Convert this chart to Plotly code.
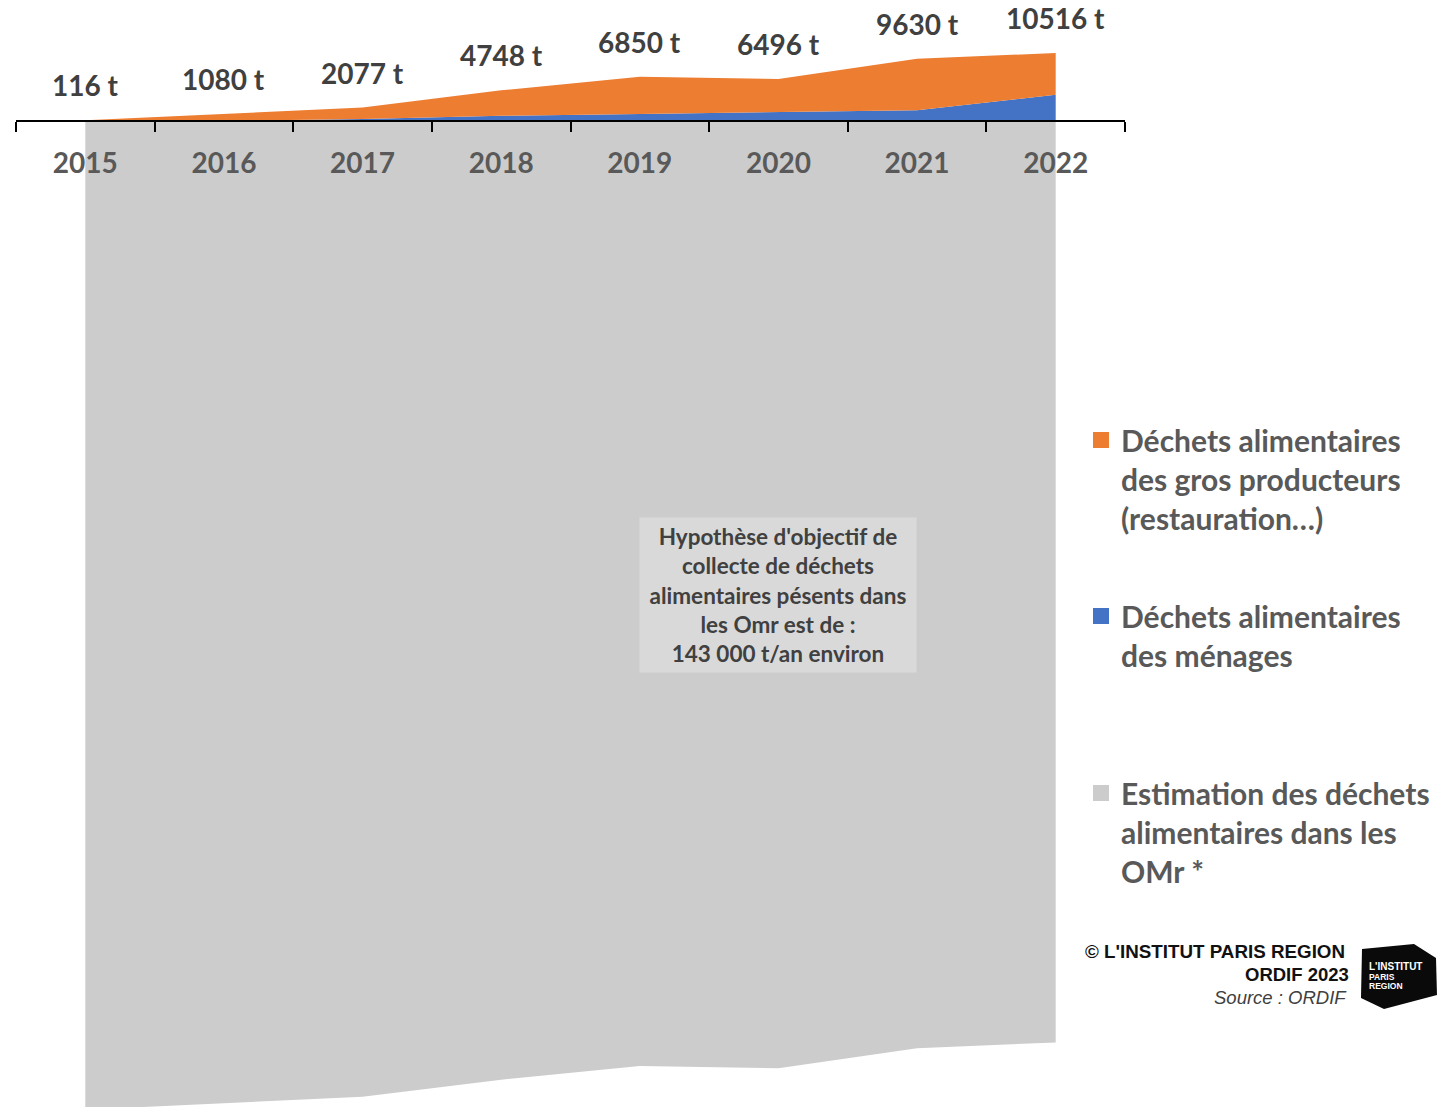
import plotly.graph_objects as go

# ---------------- data ----------------
years = ["2015", "2016", "2017", "2018", "2019", "2020", "2021", "2022"]
menages = [0, 20, 300, 800, 1100, 1350, 1650, 4050]
gros_producteurs = [116, 1060, 1777, 3948, 5750, 5146, 7980, 6466]
totaux = [116, 1080, 2077, 4748, 6850, 6496, 9630, 10516]
omr_estimation = [-152900, -151900, -150900, -148250, -146150, -146500, -143400, -142500]

label_gros = "Déchets alimentaires<br>des gros producteurs<br>(restauration…)"
label_menages = "Déchets alimentaires<br>des ménages"
label_omr = "Estimation des déchets<br>alimentaires dans les<br>OMr *"

ORANGE = "#ed7d31"
BLUE = "#4472c4"
GREY = "#cccccc"
TXT = "#595959"
DARK = "#404040"

OFF = 0                    # page body margin (removed by post_script)
W, H = 1455 - OFF, 1107 - OFF
PL, PR = 16, 1125          # plot area left/right in page px
AXIS_PX = 121              # page pixel row of the zero line
scale = 10516 / 68.0       # tonnes per pixel
ytop = (AXIS_PX - OFF) * scale
ybot = -(H - (AXIS_PX - OFF)) * scale

def px(xpix):
    return (xpix - PL) / (PR - PL)

def py(ypix):
    return 1 - (ypix - OFF) / H

FONT = dict(family="Lato, 'Open Sans', sans-serif", weight=700)

fig = go.Figure()

fig.add_trace(go.Scatter(x=years, y=omr_estimation, mode="lines", fill="tozeroy",
                         fillcolor=GREY, line=dict(width=0, color=GREY),
                         showlegend=False, hoverinfo="skip"))
fig.add_trace(go.Scatter(x=years, y=menages, mode="lines", stackgroup="one",
                         fillcolor=BLUE, line=dict(width=0, color=BLUE),
                         showlegend=False))
fig.add_trace(go.Scatter(x=years, y=gros_producteurs, mode="lines", stackgroup="one",
                         fillcolor=ORANGE, line=dict(width=0, color=ORANGE),
                         showlegend=False))

# legend entries (square markers)
for name, col, lg in [(label_gros, ORANGE, "legend"),
                      (label_menages, BLUE, "legend2"),
                      (label_omr, GREY, "legend3")]:
    fig.add_trace(go.Scatter(x=[None], y=[None], mode="markers", name=name,
                             marker=dict(symbol="square", size=16, color=col),
                             legend=lg, showlegend=True))

# data labels
for i, tot in enumerate(totaux):
    fig.add_annotation(x=i, y=tot, xref="x", yref="y", text=f"{tot} t",
                       showarrow=False, yshift=35, xanchor="center", yanchor="middle",
                       font=dict(size=28, color=DARK, **FONT))

# hypothesis box
fig.add_annotation(xref="paper", yref="paper", x=px(778), y=py(595),
                   xanchor="center", yanchor="middle",
                   text="Hypothèse d'objectif de<br>collecte de déchets<br>alimentaires pésents dans<br>les Omr est de :<br>143 000 t/an environ",
                   showarrow=False, align="center", bgcolor="#d9d9d9", borderpad=0,
                   width=276, height=154,
                   font=dict(size=22.5, color=DARK, **FONT))

# credits
cred_font = "Arial, 'Liberation Sans', sans-serif"
fig.add_annotation(xref="paper", yref="paper", x=px(1347), y=py(951), xanchor="right",
                   yanchor="middle", text="© L'INSTITUT PARIS REGION", showarrow=False,
                   font=dict(size=18.8, color="#111111", family=cred_font, weight=700))
fig.add_annotation(xref="paper", yref="paper", x=px(1351), y=py(974), xanchor="right",
                   yanchor="middle", text="ORDIF 2023", showarrow=False,
                   font=dict(size=18.5, color="#111111", family=cred_font, weight=700))
fig.add_annotation(xref="paper", yref="paper", x=px(1349), y=py(997), xanchor="right",
                   yanchor="middle", text="<i>Source : ORDIF</i>", showarrow=False,
                   font=dict(size=18.5, color=DARK, family=cred_font))

# logo
logo_pts = [(1362, 949), (1414, 944), (1436, 958), (1437, 995), (1384, 1009), (1361, 998)]
path = "M " + " L ".join(f"{px(a):.5f},{py(b):.5f}" for a, b in logo_pts) + " Z"
fig.add_shape(type="path", xref="paper", yref="paper", path=path,
              fillcolor="#0a0a0a", line=dict(width=0))
for txt, yy, sz in [("L'INSTITUT", 966, 10), ("PARIS", 977, 8.5), ("REGION", 986, 8.5)]:
    fig.add_annotation(xref="paper", yref="paper", x=px(1367), y=py(yy), xanchor="left",
                       yanchor="middle", text=txt, showarrow=False,
                       font=dict(size=sz, color="white", family=cred_font, weight=700))

legend_common = dict(font=dict(size=30, color=TXT, **FONT), valign="top",
                     bgcolor="rgba(0,0,0,0)", xanchor="left", yanchor="top",
                     itemsizing="trace")
fig.update_layout(
    width=W, height=H,
    margin=dict(l=PL - OFF, r=W - (PR - OFF), t=0, b=0, autoexpand=False),
    paper_bgcolor="white", plot_bgcolor="white",
    legend=dict(x=px(1081), y=py(414), **legend_common),
    legend2=dict(x=px(1081), y=py(590), **legend_common),
    legend3=dict(x=px(1081), y=py(767), **legend_common),
    xaxis=dict(type="category", categoryorder="array", categoryarray=years,
               range=[-0.5, len(years) - 0.5], tickson="boundaries",
               ticks="outside", ticklen=10, tickwidth=2, tickcolor="black",
               showline=True, linecolor="black", linewidth=2,
               showgrid=False, zeroline=False,
               anchor="free", position=(0 - ybot) / (ytop - ybot),
               ticklabelstandoff=17,
               tickfont=dict(size=28, color=TXT, **FONT), fixedrange=True),
    yaxis=dict(range=[ybot, ytop], visible=False, showgrid=False, zeroline=False,
               fixedrange=True),
    showlegend=True,
)

fig.write_html("out.html", config={"displayModeBar": False},
               post_script="document.body.style.margin='0px';")
